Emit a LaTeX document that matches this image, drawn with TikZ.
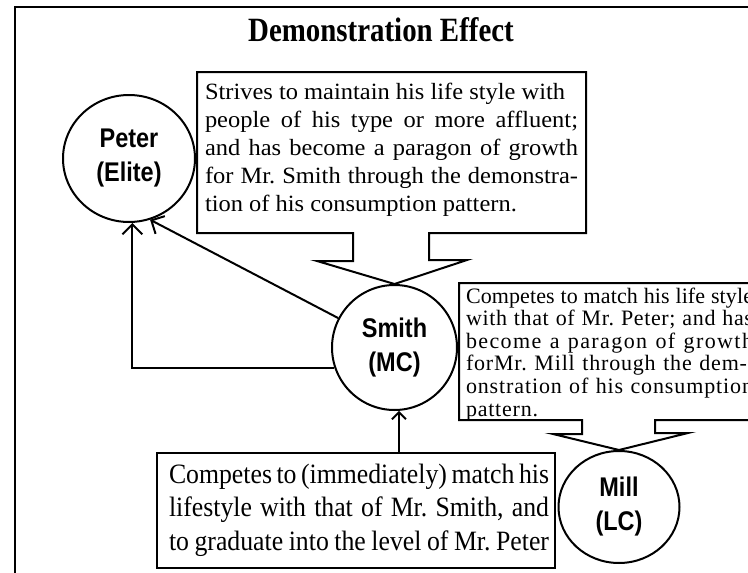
\documentclass[tikz,border=0pt]{standalone}
\usepackage{fontspec}
\setmainfont{Liberation Serif}
\newfontfamily\topfont[FakeStretch=1.05]{Liberation Serif}
\newfontfamily\botfont[FakeStretch=0.92]{Liberation Serif}
\newfontfamily\rfont{Liberation Serif}
\newfontfamily\titlefont[FakeStretch=0.85]{Liberation Serif}
\newfontfamily\circfont[FakeStretch=0.87]{Liberation Sans}
\usetikzlibrary{shapes.geometric,arrows.meta}
\frenchspacing
\newcommand\jline[2]{\hbox{\makebox[#1][s]{#2}}}
\newcommand\plainline[1]{\hbox{#1}}
\newcommand\lsline[3]{\hbox{\makebox[#1][s]{\addfontfeature{LetterSpace=#2}#3}}}
\begin{document}
\begin{tikzpicture}[x=1pt,y=-1pt, line width=2pt,
  circ/.style={ellipse, draw, line width=2pt, inner sep=0pt, align=center,
    font=\circfont\bfseries\fontsize{27}{34}\selectfont},
  arr/.style={-{Straight Barb[length=10pt,width=20pt]}},
  arrsmall/.style={-{Straight Barb[length=7pt,width=14pt]}},
  callout/.style={draw, line width=2pt, line join=miter},
  txt/.style={anchor=base west, inner sep=0pt}]
\useasboundingbox (0,0) rectangle (748,573);

% frame
\draw (15,573) -- (15,7) -- (748,7);

% title
\node[anchor=base, inner sep=0pt] (title) at (381,41)
  {\titlefont\bfseries\fontsize{34}{40}\selectfont Demonstration Effect};

% circles
\node[circ, minimum width=132pt, minimum height=127pt] (peter) at (129,158.5) {Peter\\(Elite)};
\node[circ, minimum width=125pt, minimum height=125pt] (smith) at (394.5,347.5) {Smith\\(MC)};
\node[circ, minimum width=121pt, minimum height=112pt] (mill) at (619,507) {Mill\\(LC)};

% bottom box
\node[draw, line width=2pt, minimum width=398pt, minimum height=115pt, inner sep=0pt] (bbox) at (356,510.5) {};

% callouts
\draw[callout] (197,72) -- (586,72) -- (586,233) -- (429,233) -- (429,260) -- (467,260)
  -- (smith.north) -- (317,261) -- (353,261) -- (353,233) -- (197,233) -- cycle;
\draw[callout] (459,283) -- (775,283) -- (775,420) -- (655,420) -- (655,433) -- (688,433)
  -- (mill.north) -- (553,434) -- (582,434) -- (582,420) -- (459,420) -- cycle;

% texts
\node[txt] (ttext) at (204,99) {\topfont\fontsize{23.3}{28}\selectfont\vtop{\baselineskip=28.2pt\lineskiplimit=-100pt
  \plainline{Strives to maintain his life style with}
  \jline{373pt}{people of his type or more affluent;}
  \jline{373pt}{and has become a paragon of growth}
  \jline{373pt}{for Mr. Smith through the demonstra-}
  \plainline{tion of his consumption pattern.}}};

\node[txt] (rtext) at (465,303) {\rfont\fontsize{22}{22.6}\selectfont\vtop{\baselineskip=22.6pt\lineskiplimit=-100pt
  \lsline{287pt}{0.5}{Competes to match his life style}
  \lsline{287pt}{2.9}{with that of Mr. Peter; and has}
  \lsline{287pt}{6.4}{become a paragon of growth}
  \lsline{281pt}{3.7}{forMr. Mill through the dem-}
  \lsline{287pt}{4}{onstration of his consumption}
  \hbox{\addfontfeature{LetterSpace=3.6}pattern.}}};

\node[txt] (btext) at (168,483) {\botfont\fontsize{28}{33.5}\selectfont\spaceskip=2.1pt plus 1fil\vtop{\baselineskip=33.5pt\lineskiplimit=-100pt
  \jline{380pt}{Competes to (immediately) match his}
  \jline{380pt}{lifestyle with that of Mr. Smith, and}
  \jline{380pt}{to graduate into the level of Mr. Peter}}};

% connectors
\draw[arr] (smith.199) -| (peter.-87);
\draw[arr] (smith) -- (peter.-71);
\draw[arrsmall] (bbox.north -| smith.-86) -- (smith.-86);
\end{tikzpicture}
\end{document}
